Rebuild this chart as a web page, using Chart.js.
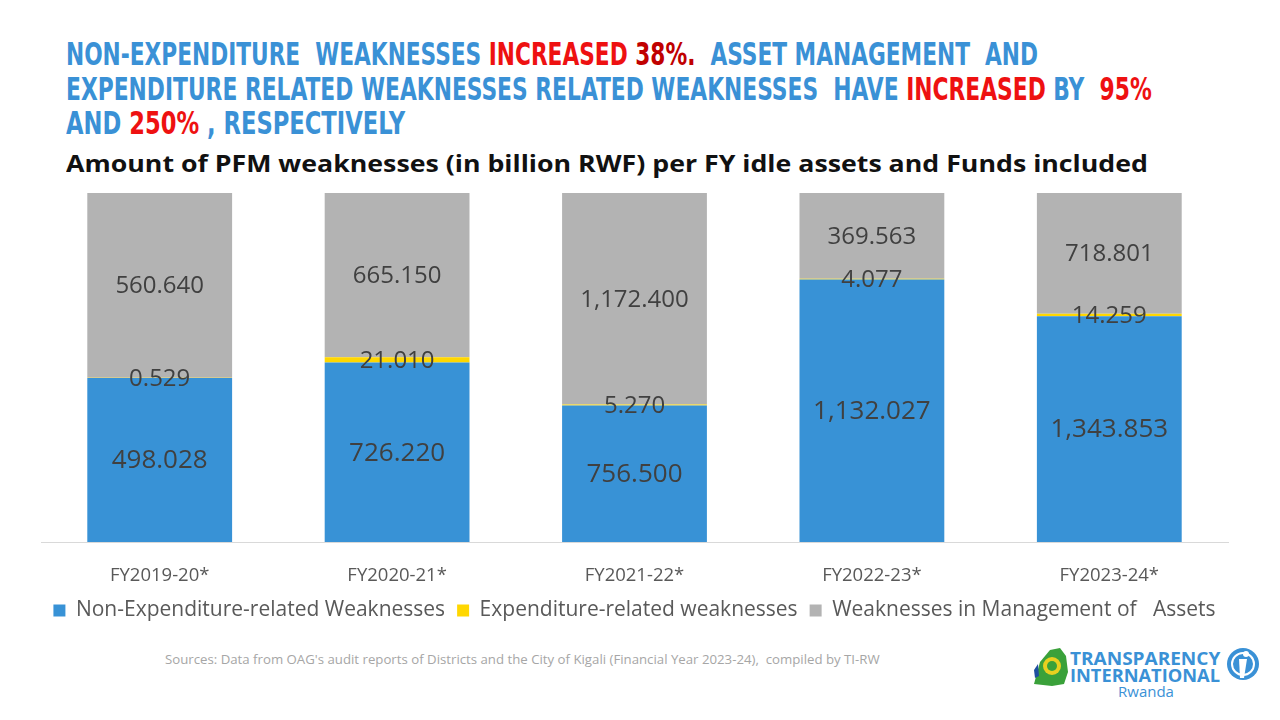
<!DOCTYPE html>
<html>
<head>
<meta charset="utf-8">
<script src="https://cdn.jsdelivr.net/npm/chart.js@4.4.1/dist/chart.umd.min.js"></script>
<style>
  html, body { margin: 0; padding: 0; background: #fff; }
  body { width: 1280px; height: 720px; position: relative; overflow: hidden; font-family: "Open Sans", sans-serif; }
  .hl { position: absolute; left: 66px; white-space: pre; font-family: "Liberation Sans Narrow", "DejaVu Sans Condensed", sans-serif;
        font-weight: bold; font-size: 32px; line-height: 34.5px; color: #3a91d6; transform-origin: 0 0; }
  .red { color: #ee1111; }
  .dark { color: #c00000; }
  #sub { position: absolute; left: 66px; top: 152px; white-space: pre; font-weight: bold; font-size: 23px; line-height: 1;
         color: #111; transform-origin: 0 0; }
  #chart { position: absolute; left: 0; top: 185px; }
  #src { position: absolute; left: 165px; top: 654px; white-space: pre; font-size: 12px; line-height: 1; color: #a6a6a6; transform-origin: 0 0; }
  #logo { position: absolute; left: 1030px; top: 644px; width: 240px; height: 60px; }
  .lt { position: absolute; white-space: pre; font-weight: bold; color: #3a91d6; transform-origin: 0 0; line-height: 1; }
</style>
</head>
<body>
<div class="hl" id="l1" style="top:37px">NON-EXPENDITURE  WEAKNESSES <span class="red">INCREASED</span> <span class="dark">38%.</span>  ASSET MANAGEMENT  AND</div>
<div class="hl" id="l2" style="top:71.5px">EXPENDITURE RELATED WEAKNESSES RELATED WEAKNESSES  HAVE <span class="red">INCREASED</span> BY  <span class="red">95%</span></div>
<div class="hl" id="l3" style="top:106px">AND <span class="red">250%</span> , RESPECTIVELY</div>
<div id="sub">Amount of PFM weaknesses (in billion RWF) per FY idle assets and Funds included</div>
<canvas id="chart" width="1280" height="450"></canvas>
<div id="src">Sources: Data from OAG's audit reports of Districts and the City of Kigali (Financial Year 2023-24),  compiled by TI-RW</div>
<div id="logo">
  <svg width="240" height="60" style="position:absolute;left:0;top:0">
    <path d="M4 40 L10 18 L20 6 L30 4 L36 12 L38 28 L34 40 L22 42 Z" fill="#3aa13a"/>
    <circle cx="22" cy="22" r="9" fill="#e8d020"/>
    <circle cx="22" cy="22" r="5" fill="#3aa13a"/>
    <path d="M4 26 L8 20 L9 32 L5 34 Z" fill="#1f4fa0"/>
    <circle cx="213" cy="20" r="16" fill="#3a91d6"/>
    <circle cx="213" cy="20" r="11" fill="none" stroke="#fff" stroke-width="2"/>
    <circle cx="216" cy="10" r="3" fill="#fff"/>
    <path d="M209 15 L217 15 L214 34 L210 34 Z" fill="#fff"/>
  </svg>
  <div class="lt" id="t1" style="left:40px;top:5px;font-size:18px">TRANSPARENCY</div>
  <div class="lt" id="t2" style="left:40px;top:22px;font-size:18px">INTERNATIONAL</div>
  <div class="lt" style="left:88px;top:40px;font-size:15px;font-weight:normal">Rwanda</div>
</div>
<script>
// squeeze a text line to the width it has in the slide
function fitWidth(id, w) {
    const el = document.getElementById(id);
    el.style.transform = 'scaleX(' + (w / el.scrollWidth) + ')';
}
fitWidth('l1', 972);
fitWidth('l2', 1086);
fitWidth('l3', 339);
fitWidth('sub', 1082);
fitWidth('src', 715);
fitWidth('t1', 150);
fitWidth('t2', 150);

const years = ['FY2019-20*', 'FY2020-21*', 'FY2021-22*', 'FY2022-23*', 'FY2023-24*'];
const nonExpenditure = [498.028, 726.220, 756.500, 1132.027, 1343.853];
const expenditure = [0.529, 21.010, 5.270, 4.077, 14.259];
const assetsMgmt = [560.640, 665.150, 1172.400, 369.563, 718.801];

const totals = years.map((y, i) => nonExpenditure[i] + expenditure[i] + assetsMgmt[i]);
function share(arr) {
    return arr.map((v, i) => v / totals[i] * 100);
}

const fmt = v => v.toLocaleString('en-US', { minimumFractionDigits: 3, maximumFractionDigits: 3 });

const valueLabels = {
    id: 'valueLabels',
    afterDatasetsDraw(chart) {
        const ctx = chart.ctx;
        ctx.save();
        ctx.textAlign = 'center';
        ctx.textBaseline = 'middle';
        ctx.fillStyle = '#404040';
        chart.data.datasets.forEach((ds, di) => {
            const meta = chart.getDatasetMeta(di);
            ctx.font = (di === 0 ? '26px' : '24px') + ' "Open Sans"';
            meta.data.forEach((bar, i) => {
                const yc = (bar.y + bar.base) / 2;
                ctx.fillText(fmt(ds.raw[i]), bar.x, yc + 1);
            });
        });
        ctx.restore();
    }
};

new Chart(document.getElementById('chart'), {
    type: 'bar',
    data: {
        labels: years,
        datasets: [
            { label: 'Non-Expenditure-related Weaknesses', data: share(nonExpenditure), raw: nonExpenditure, backgroundColor: '#3892d6' },
            { label: 'Expenditure-related weaknesses', data: share(expenditure), raw: expenditure, backgroundColor: '#ffd700' },
            { label: 'Weaknesses in Management of   Assets', data: share(assetsMgmt), raw: assetsMgmt, backgroundColor: '#b3b3b3' }
        ]
    },
    options: {
        responsive: false,
        animation: false,
        layout: { padding: { left: 41, right: 52, top: 8, bottom: 4 } },
        datasets: { bar: { categoryPercentage: 1, barPercentage: 0.61 } },
        scales: {
            x: {
                stacked: true,
                grid: { display: false, drawTicks: false },
                border: { color: '#d9d9d9', width: 1 },
                ticks: { color: '#595959', padding: 23, font: { family: 'Open Sans', size: 18.5 } },
                afterFit: scale => { scale.height = 46; }
            },
            y: { stacked: true, display: false, min: 0, max: 100 }
        },
        plugins: {
            legend: {
                position: 'bottom',
                labels: { boxWidth: 12, boxHeight: 12, padding: 12, color: '#595959', font: { family: 'Open Sans', size: 21 } }
            },
            tooltip: { enabled: false }
        }
    },
    plugins: [valueLabels]
});
</script>
</body>
</html>
